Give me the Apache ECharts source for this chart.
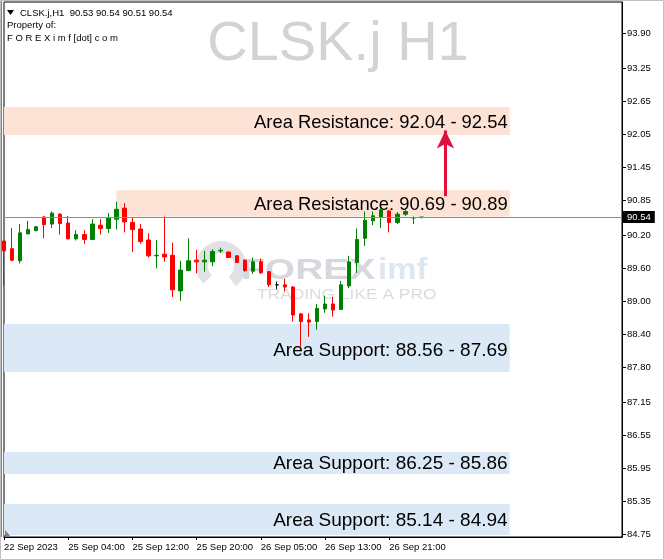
<!DOCTYPE html>
<html><head><meta charset="utf-8">
<script src="https://cdn.jsdelivr.net/npm/echarts@6/dist/echarts.min.js"></script>
<style>html,body{margin:0;padding:0;background:#fff}#c{width:664px;height:560px}</style>
</head><body><div id="c"></div>
<script>
// ---- data ----
const opens  = [90.10,89.96,89.74,90.23,90.29,90.54,90.41,90.59,90.43,90.14,90.22,90.13,90.39,90.33,90.50,90.70,90.44,90.32,90.12,89.83,89.86,89.84,89.19,89.56,89.75,89.72,89.72,89.92,89.90,89.83,89.75,89.55,89.72,89.54,89.30,89.30,89.26,88.77,88.66,88.63,88.86,88.95,88.85,89.28,89.71,90.15,90.47,90.53,90.65,90.44,90.59,90.52,90.53];
const closes = [89.92,89.75,90.25,90.31,90.36,90.40,90.61,90.42,90.14,90.22,90.13,90.41,90.33,90.52,90.68,90.45,90.31,90.09,89.83,89.84,89.81,89.21,89.57,89.74,89.72,89.75,89.91,89.93,89.80,89.71,89.56,89.72,89.52,89.30,89.30,89.26,88.75,88.63,88.62,88.87,88.95,88.84,89.30,89.72,90.13,90.48,90.56,90.67,90.44,90.59,90.64,90.53,90.54];
const lows   = [89.28,89.73,89.69,90.23,90.28,90.15,90.34,90.22,90.13,90.11,90.05,90.13,90.22,90.25,90.31,90.26,89.90,90.05,89.80,89.60,89.72,89.08,89.01,89.55,89.51,89.54,89.64,89.88,89.80,89.70,89.54,89.50,89.50,89.26,89.22,89.18,88.63,88.17,88.35,88.48,88.79,88.72,88.85,89.24,89.52,90.01,90.39,90.34,90.26,90.41,90.56,90.41,90.51];
const highs  = [90.10,90.34,90.41,90.47,90.38,90.56,90.64,90.61,90.56,90.30,90.30,90.50,90.50,90.61,90.82,90.79,90.53,90.41,90.24,90.12,90.55,90.07,89.74,90.15,89.94,89.92,89.95,89.98,89.90,89.84,89.77,89.80,89.78,89.55,89.36,89.41,89.28,88.79,88.78,88.95,89.10,89.08,89.37,89.83,90.33,90.64,90.64,90.70,90.67,90.63,90.67,90.55,90.54];
const tickLabels = ['22 Sep 2023','25 Sep 04:00','25 Sep 12:00','25 Sep 20:00','26 Sep 05:00','26 Sep 13:00','26 Sep 21:00'];
const barsPerTick = 8;
const slotCount = 78;
const yTicks = [93.90,93.25,92.65,92.05,91.45,90.85,90.20,89.60,89.00,88.40,87.80,87.15,86.55,85.95,85.35,84.75];
const lastPrice = 90.54;
const headerText = 'CLSK.j,H1  90.53 90.54 90.51 90.54';
const zoneLabels = ['Area Resistance: 92.04 - 92.54','Area Resistance: 90.69 - 90.89','Area Support: 88.56 - 87.69','Area Support: 86.25 - 85.86','Area Support: 85.14 - 84.94'];
const zoneTops    = [92.548, 91.03, 88.585, 86.247, 85.297];
const zoneBottoms = [92.037, 90.55, 87.708, 85.845, 84.73];
const zoneFrom    = [0, 14, 0, 0, 0];
const zoneTo      = [63, 63, 63, 63, 63];
const zoneKinds   = ['res','res','sup','sup','sup'];
const arrowBar = 55, arrowFrom = 90.92, arrowTo = 92.12;

// ---- build ----
const FONT = 'Liberation Sans, Arial, sans-serif';
const categories = Array.from({length: slotCount}, (_, i) => 'b' + i);
const candleData = opens.map((o, i) => [o, closes[i], lows[i], highs[i]]);
const zoneColors = {res: '#fde3d5', sup: '#dbe9f7'};
const zoneFont = {res: 18.4, sup: 19};
const labelShift = [2, 2, 3, 1, 1];
const areaData = zoneLabels.map((lab, i) => [
  {name: lab, xAxis: categories[zoneFrom[i]], yAxis: zoneTops[i],
   itemStyle: {color: zoneColors[zoneKinds[i]]},
   label: {offset: [0, labelShift[i]], fontSize: zoneFont[zoneKinds[i]]}},
  {xAxis: categories[zoneTo[i]], yAxis: zoneBottoms[i]}
]);

const chart = echarts.init(document.getElementById('c'), null, {renderer: 'canvas'});
chart.setOption({
  animation: false,
  backgroundColor: '#fff',
  grid: {left: 4, right: 42, top: 2, bottom: 23, show: true, borderColor: '#000', borderWidth: 1, backgroundColor: 'transparent'},
  xAxis: {
    type: 'category', data: categories, boundaryGap: false,
    axisLine: {show: true, lineStyle: {color: '#000', width: 1}},
    axisTick: {show: true, length: 3, lineStyle: {color: '#000'},
      interval: (i) => i % barsPerTick === 0 && i / barsPerTick < tickLabels.length},
    axisLabel: {show: true, color: '#000', fontSize: 9.5, fontFamily: FONT, align: 'left', margin: 5,
      interval: (i) => i % barsPerTick === 0 && i / barsPerTick < tickLabels.length,
      formatter: (v, i) => tickLabels[i / barsPerTick] || ''},
    splitLine: {show: false}
  },
  yAxis: {
    type: 'value', position: 'right', min: 84.695, max: 94.466, scale: true,
    axisLine: {show: true, lineStyle: {color: '#000', width: 1}},
    axisTick: {show: true, length: 4, customValues: yTicks, lineStyle: {color: '#000'}},
    axisLabel: {show: true, customValues: yTicks, color: '#000', fontSize: 9.5, fontFamily: FONT, margin: 5,
      formatter: (v) => v.toFixed(2)},
    splitLine: {show: false}
  },
  graphic: [
    {type: 'text', x: 338, y: 45, z: 0, silent: true,
     style: {text: 'CLSK.j H1', fontSize: 56, fontFamily: FONT, fill: '#d3d3d3', textAlign: 'center', textVerticalAlign: 'middle', align: 'center', verticalAlign: 'middle'}},
    {type: 'sector', z: 0, silent: true, shape: {cx: 221, cy: 266, r: 25, r0: 13, startAngle: Math.PI * 0.75, endAngle: Math.PI * 2.3, clockwise: true},
     style: {fill: '#dfe1e5'}},
    {type: 'text', x: 241, y: 271, z: 0, scaleX: 1.3, silent: true,
     style: {text: 'FOREX', fontSize: 30, fontWeight: 'bold', fontFamily: FONT, fill: '#d6d8dd', textAlign: 'left', textVerticalAlign: 'middle', align: 'left', verticalAlign: 'middle'}},
    {type: 'text', x: 378, y: 271, z: 0, scaleX: 1.1, silent: true,
     style: {text: 'imf', fontSize: 30, fontWeight: 'bold', fontFamily: FONT, fill: '#dde7f2', textAlign: 'left', textVerticalAlign: 'middle', align: 'left', verticalAlign: 'middle'}},
    {type: 'text', x: 257, y: 295, z: 0, scaleX: 1.24, silent: true,
     style: {text: 'TRADING LIKE A PRO', fontSize: 14, fontFamily: FONT, fill: '#dcdcdc', textAlign: 'left', textVerticalAlign: 'middle', align: 'left', verticalAlign: 'middle'}},
    {type: 'polygon', z: 100, silent: true, shape: {points: [[7, 10], [14, 10], [10.5, 15]]}, style: {fill: '#000'}},
    {type: 'text', x: 20, y: 13, z: 100, silent: true,
     style: {text: headerText, fontSize: 9.5, fontFamily: FONT, fill: '#000', textAlign: 'left', textVerticalAlign: 'middle', align: 'left', verticalAlign: 'middle'}},
    {type: 'text', x: 7, y: 25, z: 100, silent: true,
     style: {text: 'Property of:', fontSize: 9.5, fontFamily: FONT, fill: '#000', textAlign: 'left', textVerticalAlign: 'middle', align: 'left', verticalAlign: 'middle'}},
    {type: 'text', x: 7, y: 38, z: 100, silent: true,
     style: {text: 'F O R E X i m f [dot] c o m', fontSize: 9.5, fontFamily: FONT, fill: '#000', textAlign: 'left', textVerticalAlign: 'middle', align: 'left', verticalAlign: 'middle'}},
    {type: 'polygon', z: 100, silent: true, shape: {points: [[5, 530], [5, 537], [11, 537]]}, style: {fill: '#7a7f8a'}},
    {type: 'line', z: 100, silent: true, shape: {x1: 1.5, y1: 1, x2: 1.5, y2: 537}, style: {stroke: '#808080', lineWidth: 1}},
    {type: 'rect', z: 100, silent: true, shape: {x: 0.5, y: 0.5, width: 663, height: 559}, style: {fill: 'none', stroke: '#c0c0c0', lineWidth: 1}}
  ],
  series: [{
    type: 'candlestick',
    data: candleData,
    barWidth: 4,
    z: 2,
    itemStyle: {color: '#008000', color0: '#ff0000', borderColor: '#008000', borderColor0: '#ff0000', borderColorDoji: '#000000', borderWidth: 1},
    emphasis: {disabled: true},
    markArea: {
      silent: true, z: 1,
      label: {show: true, position: 'insideRight', distance: 2, color: '#000', fontSize: 18.4, fontFamily: FONT},
      emphasis: {disabled: true},
      data: areaData
    },
    markLine: {
      silent: true, symbol: ['none', 'none'], animation: false,
      emphasis: {disabled: true},
      data: [
        {yAxis: lastPrice, lineStyle: {color: '#8c8c8c', width: 1, type: 'solid'},
         label: {show: true, position: 'end', distance: 0, formatter: lastPrice.toFixed(2), backgroundColor: '#000', color: '#fff', fontSize: 9.5, fontFamily: FONT, padding: [1, 4, 1, 5]}},
        [{coord: [categories[arrowBar], arrowFrom], symbol: 'none', lineStyle: {color: '#e0103c', width: 3, type: 'solid'}, label: {show: false}},
         {coord: [categories[arrowBar], arrowTo], symbol: 'arrow', symbolSize: [13, 18]}]
      ]
    }
  }]
});
</script>
</body></html>
